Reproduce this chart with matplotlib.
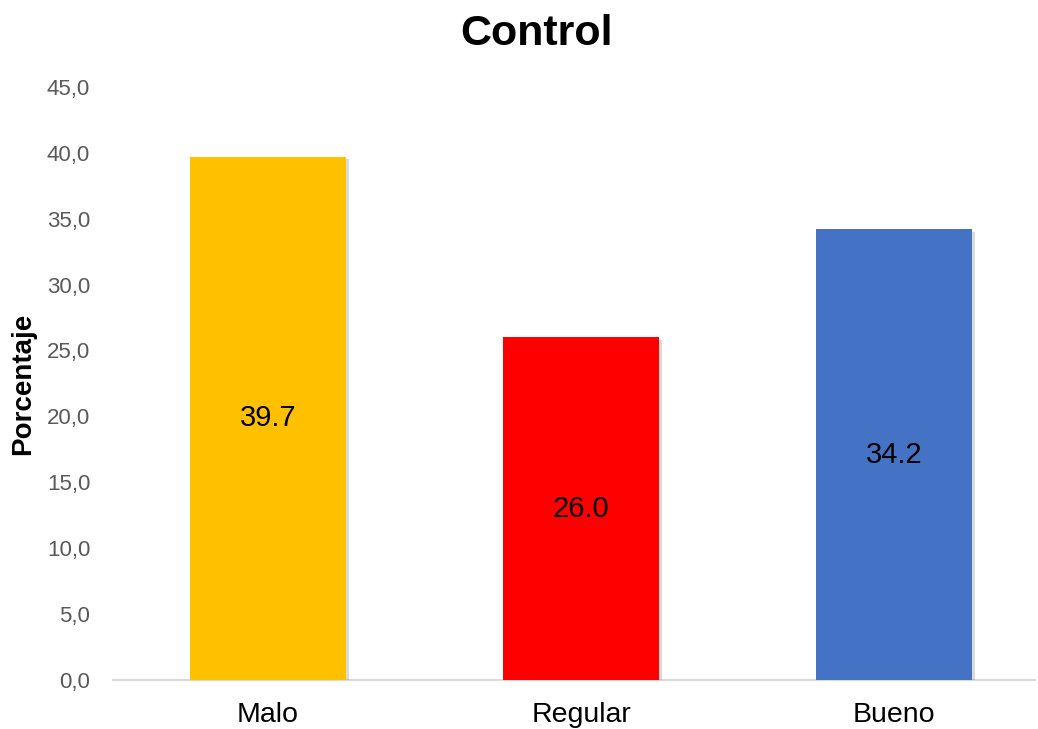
import matplotlib
matplotlib.use("Agg")
import matplotlib.pyplot as plt
import matplotlib.patheffects as pe
from matplotlib.ticker import FuncFormatter

categories = ["Malo", "Regular", "Bueno"]
values = [39.7, 26.0, 34.2]
colors = ["#FFC000", "#FF0000", "#4472C4"]

plt.rcParams["font.family"] = ["Liberation Sans", "DejaVu Sans"]

fig = plt.figure(figsize=(10.38, 7.29), dpi=100)
ax = fig.add_axes([0.109, 0.067, 0.888, 0.814])

x = range(len(categories))
bars = ax.bar(x, values, width=0.5, color=colors, zorder=3)
for b in bars:
    b.set_path_effects([pe.SimplePatchShadow(offset=(2, -2), shadow_rgbFace="#888888", alpha=0.3),
                        pe.Normal()])

for xi, v in zip(x, values):
    ax.text(xi, v / 2, f"{v:.1f}", ha="center", va="center", fontsize=21, color="black", zorder=4)

ax.set_ylim(0, 45)
ax.set_xlim(-0.495, 2.45)
ax.set_yticks(range(0, 46, 5))
ax.yaxis.set_major_formatter(FuncFormatter(lambda v, p: f"{v:.1f}".replace(".", ",")))
ax.set_xticks(list(x))
ax.set_xticklabels(categories, fontsize=20.5)
ax.tick_params(axis="y", labelsize=16, labelcolor="#595959", length=0, pad=16.5)
ax.tick_params(axis="x", length=0, pad=16)

for s in ["top", "right", "left"]:
    ax.spines[s].set_visible(False)
ax.spines["bottom"].set_color("#D9D9D9")
ax.spines["bottom"].set_linewidth(1.5)

ax.set_ylabel("Porcentaje", fontsize=20, fontweight="bold", labelpad=8)
fig.text(0.517, 0.954, "Control", ha="center", va="center", fontsize=31, fontweight="bold")

fig.savefig("out.png", dpi=100)
